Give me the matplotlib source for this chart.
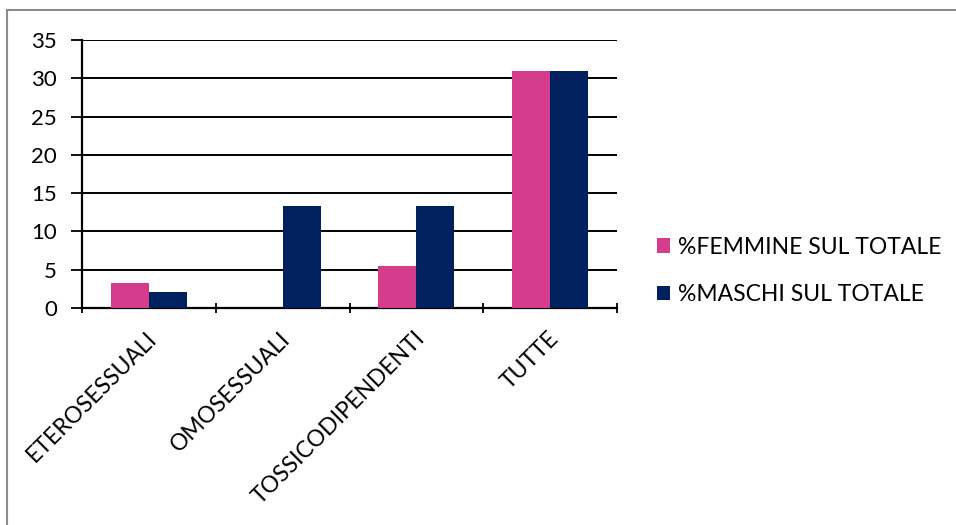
import numpy as np
import matplotlib
matplotlib.use('Agg')
import matplotlib.pyplot as plt
from matplotlib.lines import Line2D

plt.rcParams['font.family'] = ['Lato', 'DejaVu Sans']

categories = ['ETEROSESSUALI', 'OMOSESSUALI', 'TOSSICODIPENDENTI', 'TUTTE']
femmine = [3.3, 0.0, 5.5, 31.0]
maschi = [2.1, 13.3, 13.3, 31.0]
series_names = ['%FEMMINE SUL TOTALE', '%MASCHI SUL TOTALE']
yticks = [0, 5, 10, 15, 20, 25, 30, 35]

PINK = '#D53C8B'
NAVY = '#00205E'

W, H = 956, 525
fig = plt.figure(figsize=(W / 100, H / 100), dpi=100)
ax = fig.add_axes([82 / W, 1 - 308 / H, (617 - 82) / W, (308 - 40) / H])

x = np.arange(len(categories))
bw = 0.284
b1 = ax.bar(x - bw / 2, femmine, bw, color=PINK, label=series_names[0], zorder=3)
b2 = ax.bar(x + bw / 2, maschi, bw, color=NAVY, label=series_names[1], zorder=3)

ax.set_xlim(-0.5, len(categories) - 0.5)
ax.set_ylim(0, 35)
ax.set_yticks(yticks)
ax.set_yticklabels([str(v) for v in yticks], fontsize=16)
ax.yaxis.grid(True, color='black', linewidth=1.4, zorder=0)
ax.tick_params(axis='y', length=8, width=1.3, direction='out', pad=10)

# category boundary ticks
ax.set_xticks(np.arange(len(categories) + 1) - 0.5)
ax.set_xticklabels([])
ax.tick_params(axis='x', length=7, width=1.3, direction='inout')
for xi, lab in zip(x, categories):
    ax.text(xi - 0.02, -2.6, lab, rotation=45, ha='right', va='top',
            rotation_mode='anchor', fontsize=16.5, transform=ax.transData)

for s in ['top', 'right']:
    ax.spines[s].set_visible(False)
for s in ['left', 'bottom']:
    ax.spines[s].set_linewidth(1.6)
    ax.spines[s].set_color('black')

leg = fig.legend(handles=[b1, b2], labels=series_names, loc='center left',
                 bbox_to_anchor=(636 / W, 1 - 271 / H), frameon=False,
                 fontsize=16.5, handlelength=0.6, handleheight=0.6,
                 handletextpad=0.35, labelspacing=1.15)

# outer chart frame
fig.add_artist(Line2D([7 / W, 7 / W], [0, 1 - 10 / H], color='#8c8c8c', lw=1.5))
fig.add_artist(Line2D([7 / W, 1], [1 - 10 / H, 1 - 10 / H], color='#8c8c8c', lw=1.5))

fig.savefig('out.png', dpi=100)
